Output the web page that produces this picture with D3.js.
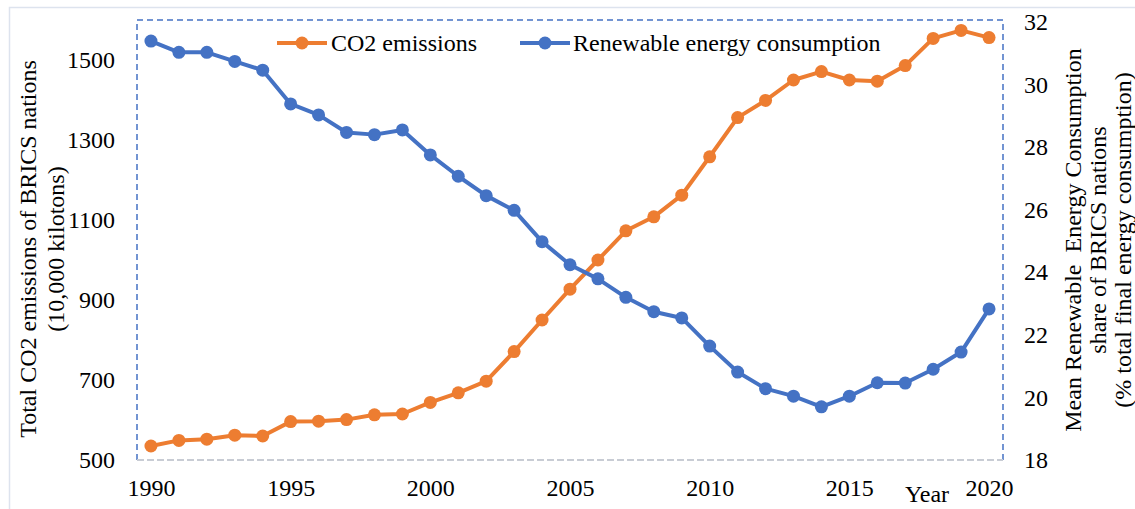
<!DOCTYPE html>
<html>
<head>
<meta charset="utf-8">
<script src="https://cdn.jsdelivr.net/npm/d3@7"></script>
<style>
  html, body { margin: 0; padding: 0; background: #fff; }
  svg { display: block; }
  text { font-family: "Liberation Serif", "Times New Roman", serif; fill: #000; }
</style>
</head>
<body>
<svg id="chart" width="1135" height="509"></svg>
<script>
// ---- data ----
const years = d3.range(1990, 2021);
const co2Emissions = [535, 549, 552, 562, 560, 596, 597, 601, 613, 615,
  644, 668, 697, 771, 850, 927, 1000, 1073, 1108, 1162,
  1258, 1356, 1399, 1450, 1471, 1450, 1447, 1486, 1554, 1574, 1556];
const renewableShare = [31.39, 31.03, 31.03, 30.74, 30.46, 29.38, 29.03, 28.47, 28.40, 28.55,
  27.75, 27.07, 26.45, 25.98, 24.98, 24.24, 23.79, 23.20, 22.74, 22.54,
  21.64, 20.81, 20.28, 20.04, 19.70, 20.04, 20.47, 20.46, 20.90, 21.45, 22.83];
const xTicks = [1990, 1995, 2000, 2005, 2010, 2015, 2020];
const leftTicks = [500, 700, 900, 1100, 1300, 1500];
const rightTicks = [18, 20, 22, 24, 26, 28, 30, 32];
const seriesNames = ["CO2 emissions", "Renewable energy consumption"];
const leftTitle = ["Total CO2 emissions of BRICS nations", "(10,000 kilotons)"];
const rightTitle = ["Mean Renewable  Energy Consumption", "share of BRICS nations", "(% total final energy consumption)"];
const xTitle = "Year";

// ---- layout ----
const W = 1135, H = 509;
const plot = { left: 137, right: 1003, top: 20, bottom: 460 };
const orange = "#ED7D31", blue = "#4472C4";
const fs = 24;

const svg = d3.select("#chart");
svg.append("rect").attr("width", W).attr("height", H).attr("fill", "#fff");
// outer chart border
svg.append("rect").attr("x", 9.5).attr("y", 7.5).attr("width", W + 20).attr("height", H + 20)
  .attr("fill", "none").attr("stroke", "#dde3ee").attr("stroke-width", 1.5);

const x = d3.scaleLinear().domain([1989.5, 2020.5]).range([plot.left, plot.right]);
const yL = d3.scaleLinear().domain([500, 1600]).range([plot.bottom, plot.top]);
const yR = d3.scaleLinear().domain([18, 32]).range([plot.bottom, plot.top + 2]);

// plot area border: dashed blue (left, top, right), grey dashed bottom axis
svg.append("path")
  .attr("d", `M${plot.left},${plot.bottom}V${plot.top}H${plot.right}V${plot.bottom}`)
  .attr("fill", "none").attr("stroke", blue).attr("stroke-width", 1.5)
  .attr("stroke-dasharray", "6,4");
svg.append("line")
  .attr("x1", plot.left).attr("x2", plot.right).attr("y1", plot.bottom).attr("y2", plot.bottom)
  .attr("stroke", "#c8ccd4").attr("stroke-width", 2).attr("stroke-dasharray", "7,3");

// axes (labels only)
const axB = svg.append("g").attr("transform", `translate(0,${plot.bottom})`)
  .call(d3.axisBottom(x).tickValues(xTicks).tickFormat(d3.format("d")).tickSize(0).tickPadding(0));
axB.select(".domain").remove();
axB.selectAll("text").attr("y", 36).attr("dy", 0).style("font-size", fs + "px")
  .style("font-family", "Liberation Serif");

const axL = svg.append("g").attr("transform", `translate(${plot.left},0)`)
  .call(d3.axisLeft(yL).tickValues(leftTicks).tickFormat(d3.format("d")).tickSize(0).tickPadding(22));
axL.select(".domain").remove();
axL.selectAll("text").attr("dy", "0.32em").style("font-size", fs + "px")
  .style("font-family", "Liberation Serif");

const axR = svg.append("g").attr("transform", `translate(${plot.right},0)`)
  .call(d3.axisRight(yR).tickValues(rightTicks).tickFormat(d3.format("d")).tickSize(0).tickPadding(21));
axR.select(".domain").remove();
axR.selectAll("text").attr("dy", "0.32em").style("font-size", fs + "px")
  .style("font-family", "Liberation Serif");

// axis titles
svg.append("text").attr("x", 927).attr("y", 502).attr("text-anchor", "middle")
  .style("font-size", fs + "px").text(xTitle);

const lt = svg.append("g");
leftTitle.forEach((t, i) => {
  lt.append("text").attr("transform", `translate(${36 + i * 28},249) rotate(-90)`)
    .attr("text-anchor", "middle").style("font-size", fs + "px").text(t);
});
const rt = svg.append("g");
rightTitle.forEach((t, i) => {
  rt.append("text").attr("transform", `translate(${1081 + i * 25},240) rotate(-90)`)
    .attr("text-anchor", "middle").style("font-size", fs + "px").attr("xml:space", "preserve")
    .style("white-space", "pre").text(t);
});

// series
const lineL = d3.line().x((d, i) => x(years[i])).y(d => yL(d));
const lineR = d3.line().x((d, i) => x(years[i])).y(d => yR(d));

function drawSeries(vals, gen, scale, color) {
  const g = svg.append("g");
  g.append("path").datum(vals).attr("d", gen).attr("fill", "none")
    .attr("stroke", color).attr("stroke-width", 4).attr("stroke-linejoin", "round");
  g.selectAll("circle").data(vals).join("circle")
    .attr("cx", (d, i) => x(years[i])).attr("cy", d => scale(d)).attr("r", 6.5).attr("fill", color);
}
drawSeries(co2Emissions, lineL, yL, orange);
drawSeries(renewableShare, lineR, yR, blue);

// legend
const legend = [
  { name: seriesNames[0], color: orange, x0: 277, tx: 331 },
  { name: seriesNames[1], color: blue, x0: 520, tx: 573 }
];
const lg = svg.append("g");
legend.forEach(l => {
  lg.append("line").attr("x1", l.x0).attr("x2", l.x0 + 50).attr("y1", 43).attr("y2", 43)
    .attr("stroke", l.color).attr("stroke-width", 4);
  lg.append("circle").attr("cx", l.x0 + 25).attr("cy", 43).attr("r", 6.5).attr("fill", l.color);
  lg.append("text").attr("x", l.tx).attr("y", 51).style("font-size", fs + "px").text(l.name);
});
</script>
</body>
</html>
